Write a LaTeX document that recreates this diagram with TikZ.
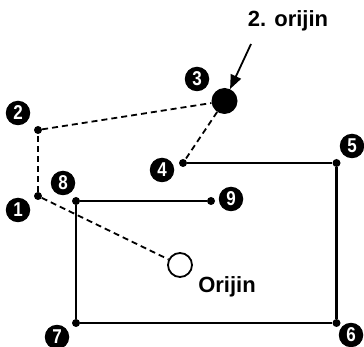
\documentclass[tikz,border=0pt]{standalone}
\usepackage{fontspec}
\setmainfont{Liberation Sans}
\newfontfamily\numfont[FakeStretch=0.85]{Liberation Sans}
\usetikzlibrary{arrows.meta}
\begin{document}
\begin{tikzpicture}[x=1pt,y=-1pt,
  dot/.style={circle,fill=black,inner sep=0pt,minimum size=8pt},
  num/.style={circle,fill=black,text=white,inner sep=0pt,minimum size=24.5pt,
    font=\numfont\bfseries\fontsize{20}{20}\selectfont},
  dsh/.style={line width=1.8pt,dash pattern=on 6pt off 4pt},
  sld/.style={line width=2.2pt},
  lbl/.style={font=\bfseries\fontsize{22}{22}\selectfont}]
\useasboundingbox (0,0) rectangle (364,347);
% points
\node[dot] (p1) at (38,196) {};
\node[dot] (p2) at (38,130) {};
\node[circle,fill=black,inner sep=0pt,minimum size=26pt] (p3) at (224.5,101) {};
\node[dot] (p4) at (183,163) {};
\node[dot] (p5) at (336.5,163) {};
\node[dot] (p6) at (336.5,323) {};
\node[dot] (p7) at (76,323) {};
\node[dot] (p8) at (76,201) {};
\node[dot] (p9) at (211,201) {};
\node[circle,draw,line width=1.8pt,fill=white,inner sep=0pt,minimum size=24pt] (o) at (180,265) {};
% paths
\draw[dsh] (p1) -- (p2);
\draw[dsh] (p2) -- (p3);
\draw[dsh] (p3) -- (p4);
\draw[dsh] (p1) -- (o);
\draw[sld] (p4) -- (p5);
\draw[sld] (p5) -- (p6);
\draw[sld] (p6) -- (p7);
\draw[sld] (p7) -- (p8);
\draw[sld] (p8) -- (p9);
% labels
\node[num] (n1) at (18,210) {1};
\node[num] (n2) at (18,113) {2};
\node[num] (n3) at (197,79) {3};
\node[num] (n4) at (162,170) {4};
\node[num] (n5) at (352,146) {5};
\node[num] (n6) at (351,335) {6};
\node[num] (n7) at (57,337) {7};
\node[num] (n8) at (63,183) {8};
\node[num] (n9) at (231,199) {9};
\node[lbl] (t2) at (288,21) {2. orijin};
\node[lbl] (t1) at (227,287) {Orijin};
\coordinate (a0) at (251,44);
\draw[-{Triangle[length=14pt,width=11pt]},line width=1.8pt] (a0) -- (p3);
\end{tikzpicture}
\end{document}
